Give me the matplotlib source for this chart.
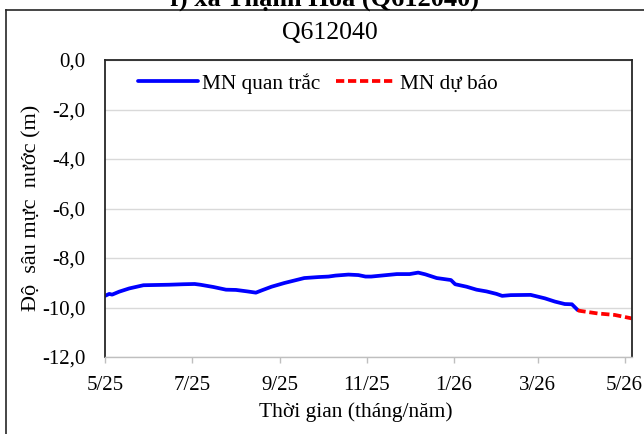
import matplotlib
matplotlib.use("Agg")
import matplotlib.pyplot as plt
import matplotlib.dates as mdates
from matplotlib.lines import Line2D
from matplotlib.ticker import FuncFormatter
import pandas as pd

obs_dates = [
    "2025-05-01", "2025-05-04", "2025-05-06", "2025-05-11", "2025-05-18", "2025-05-28",
    "2025-06-06", "2025-06-15", "2025-06-25", "2025-07-03", "2025-07-07", "2025-07-16",
    "2025-07-25", "2025-08-01", "2025-08-09", "2025-08-15", "2025-08-19", "2025-08-26",
    "2025-09-04", "2025-09-11", "2025-09-18", "2025-09-28", "2025-10-05", "2025-10-10",
    "2025-10-19", "2025-10-26", "2025-10-31", "2025-11-04", "2025-11-13", "2025-11-22",
    "2025-12-01", "2025-12-07", "2025-12-12", "2025-12-20", "2025-12-30", "2026-01-02",
    "2026-01-10", "2026-01-17", "2026-01-24", "2026-01-31", "2026-02-04", "2026-02-10",
    "2026-02-24", "2026-03-06", "2026-03-13", "2026-03-20", "2026-03-25", "2026-03-29",
]
obs_values = [
    -9.53, -9.45, -9.48, -9.36, -9.23, -9.10,
    -9.09, -9.08, -9.06, -9.05, -9.08, -9.17,
    -9.28, -9.29, -9.35, -9.40, -9.31, -9.16,
    -9.01, -8.91, -8.81, -8.77, -8.75, -8.71,
    -8.67, -8.69, -8.75, -8.75, -8.70, -8.65,
    -8.65, -8.59, -8.66, -8.81, -8.89, -9.06,
    -9.16, -9.28, -9.35, -9.45, -9.53, -9.50,
    -9.49, -9.63, -9.76, -9.86, -9.87, -10.10,
]

fc_dates = ["2026-03-29", "2026-03-30", "2026-04-12", "2026-04-24", "2026-05-06"]
fc_values = [-10.10, -10.13, -10.24, -10.30, -10.44]

station = "Q612040"
top_caption = "f) xã Thạnh Hóa (Q612040)"
x_start, x_end = "2025-05-01", "2026-05-06"

serif = ["Liberation Serif", "DejaVu Serif"]
plt.rcParams["font.family"] = serif

W, H = 644, 434
fig = plt.figure(figsize=(W / 100, H / 100), dpi=100)
ax = fig.add_axes([105 / W, 1 - 357 / H, (631.7 - 105) / W, (357 - 60) / H])

ax.plot(pd.to_datetime(obs_dates), obs_values, color="#0000ff", lw=2.7,
        label="MN quan trắc", solid_capstyle="round", solid_joinstyle="round")
ax.plot(pd.to_datetime(fc_dates), fc_values, color="#ff0000", lw=2.7,
        ls=(0, (2.2, 1.0)), label="MN dự báo")

ax.set_xlim(pd.Timestamp(x_start), pd.Timestamp(x_end))
ax.set_ylim(-12, 0)
ax.set_yticks([0, -2, -4, -6, -8, -10, -12])
ax.yaxis.set_major_formatter(FuncFormatter(lambda v, p: f"{v:.1f}".replace(".", ",")))
ax.xaxis.set_major_locator(mdates.MonthLocator(bymonth=[1, 3, 5, 7, 9, 11]))
ax.xaxis.set_major_formatter(FuncFormatter(
    lambda v, p: f"{mdates.num2date(v).month}/{mdates.num2date(v).strftime('%y')}"))

ax.grid(axis="y", color="#d9d9d9", lw=1.0)
ax.set_axisbelow(True)
for side in ["top", "left", "right"]:
    ax.spines[side].set_color("#262626")
    ax.spines[side].set_linewidth(1.3)
ax.spines["bottom"].set_color("#bfbfbf")
ax.spines["bottom"].set_linewidth(1.0)

ax.tick_params(axis="y", length=0, pad=14, labelsize=15, colors="black")
ax.tick_params(axis="x", length=4, width=1, color="#bfbfbf", pad=10, labelsize=15)

ax.set_xlabel("Thời gian (tháng/năm)", fontsize=15.5)
ax.xaxis.set_label_coords((356 - 105) / (631.7 - 105), -(412 - 357) / 297)
ax.xaxis.label.set_va("center")
ax.set_ylabel("Độ  sâu mực  nước (m)", fontsize=16)
ax.yaxis.set_label_coords((32 - 105) / (631.7 - 105), (357 - 208) / 297)
ax.yaxis.label.set_va("center")

ax.legend(loc="center", bbox_to_anchor=((318 - 105) / (631.7 - 105), 1 - 23.3 / 297),
          ncol=2, frameon=False, fontsize=15.3, handlelength=2.8, handletextpad=0.2,
          columnspacing=0.75, borderpad=0)

fig.text(330 / W, 1 - 33 / H, station, ha="center", va="center", fontsize=18.5)
fig.text(325 / W, 1 - 6 / H, top_caption, ha="center", va="baseline",
         fontsize=19, fontweight="bold")

# outer chart frame, cut off at right and bottom
fig.add_artist(Line2D([6 / W, 6 / W], [0, 1 - 9.5 / H], transform=fig.transFigure,
                      color="#262626", lw=1.2))
fig.add_artist(Line2D([6 / W, 1], [1 - 9.5 / H, 1 - 9.5 / H], transform=fig.transFigure,
                      color="#262626", lw=1.2))

fig.savefig("out.png", dpi=100)
